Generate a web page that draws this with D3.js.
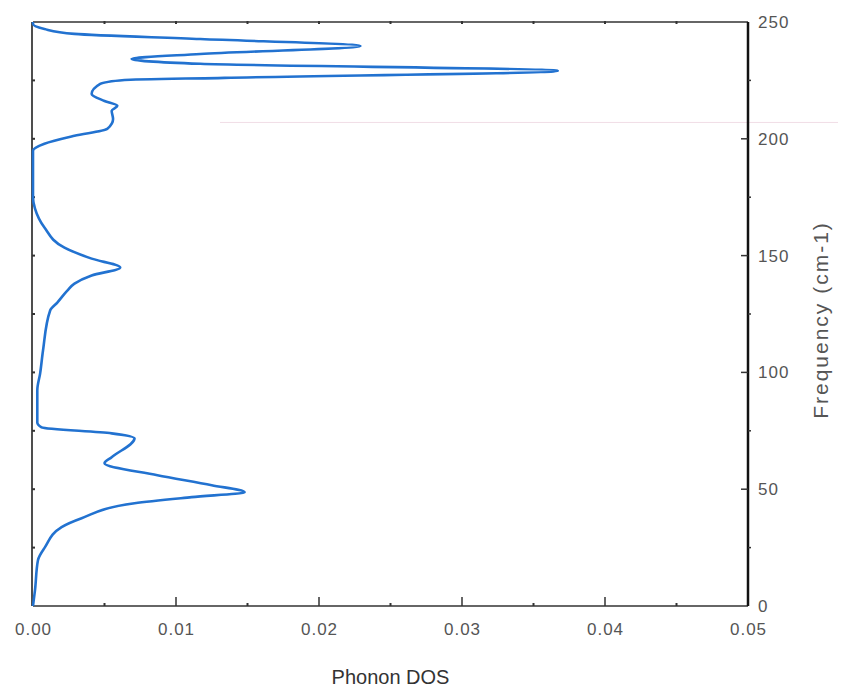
<!DOCTYPE html>
<html lang="en">
<head>
<meta charset="utf-8">
<title>Phonon DOS</title>
<style>
  body { margin: 0; background: #fff; }
  text { font-family: "Liberation Sans", Arial, sans-serif; }
</style>
</head>
<body>
<svg id="chart"></svg>
<script src="https://cdn.jsdelivr.net/npm/d3@7/dist/d3.min.js"></script>
<script>
// frequency (cm-1) and phonon DOS
const freq = [0, 6.8, 19.7, 25.2, 33.8, 37.6, 44.0, 46.6, 48.7, 51.7, 56.0, 61.1, 63.7, 71.8, 73.9, 76.5, 78.6,
  92.3, 99.6, 109.4, 126.5, 129.9, 135.0, 138.0, 141.5, 144.9, 148.7, 153.4, 162.0, 170.1, 174.8,
  194.9, 197.9, 201.3, 204.3, 208.5, 212.0, 214.1, 216.2, 219.2, 223.5, 225.2, 226.1, 229.1,
  232.1, 234.2, 236.3, 239.7, 242.7, 244.9, 247.0, 249.1, 250];
const dos = [0, 0.00014, 0.00035, 0.00084, 0.0020, 0.0034, 0.0071, 0.0111, 0.0148, 0.0125, 0.0087, 0.0050, 0.0055, 0.0071, 0.0055, 0.0006, 0.0003,
  0.0003, 0.0005, 0.0007, 0.0012, 0.0017, 0.0024, 0.0029, 0.0041, 0.0061, 0.0041, 0.0022, 0.0008, 0.00014, 0,
  0, 0.0008, 0.0029, 0.0052, 0.0056, 0.0055, 0.0059, 0.0050, 0.0041, 0.0047, 0.0064, 0.0134, 0.0367,
  0.0117, 0.0069, 0.0117, 0.0229, 0.0117, 0.0029, 0.0008, 0, 0];

const xTicks = [0, 0.01, 0.02, 0.03, 0.04, 0.05];
const xMinor = [0.005, 0.015, 0.025, 0.035, 0.045];
const yTicks = [0, 50, 100, 150, 200, 250];
const yMinor = [25, 75, 125, 175, 225];

const width = 842, height = 690;
const mLeft = 33, mRight = 748, mTop = 22, mBottom = 606;

const svg = d3.select('#chart').attr('width', width).attr('height', height);

const x = d3.scaleLinear().domain([0, 0.05]).range([mLeft, mRight]);
const y = d3.scaleLinear().domain([0, 250]).range([mBottom, mTop]);

const data = freq.map((f, i) => ({ f: f, d: dos[i] }));

// faint scan line seen in the picture
svg.append('line')
  .attr('x1', 220).attr('x2', 838)
  .attr('y1', y(207)).attr('y2', y(207))
  .attr('stroke', '#f1dde6').attr('stroke-width', 1);

// frame
svg.append('line').attr('x1', mLeft).attr('x2', mRight).attr('y1', mTop).attr('y2', mTop)
  .attr('stroke', '#333').attr('stroke-width', 1.5);
svg.append('line').attr('x1', mLeft).attr('x2', mRight).attr('y1', mBottom).attr('y2', mBottom)
  .attr('stroke', '#333').attr('stroke-width', 1.5);
svg.append('line').attr('x1', mLeft - 1).attr('x2', mLeft - 1).attr('y1', mTop).attr('y2', mBottom)
  .attr('stroke', '#222').attr('stroke-width', 1.6);
svg.append('line').attr('x1', mRight).attr('x2', mRight).attr('y1', mTop).attr('y2', mBottom)
  .attr('stroke', '#111').attr('stroke-width', 2.5);

// bottom axis
const xAxis = d3.axisBottom(x).tickValues(xTicks).tickFormat(d3.format('.2f')).tickSize(0).tickPadding(17);
const gx = svg.append('g').attr('transform', 'translate(0,' + mBottom + ')').call(xAxis);
gx.select('.domain').remove();
gx.selectAll('text').attr('font-size', 17).attr('letter-spacing', 1).attr('fill', '#555');
svg.append('g').selectAll('line').data(xTicks.slice(1, -1)).join('line')
  .attr('x1', d => x(d)).attr('x2', d => x(d)).attr('y1', mBottom).attr('y2', mBottom - 9)
  .attr('stroke', '#333').attr('stroke-width', 1.5);
svg.append('g').selectAll('line').data(xMinor).join('line')
  .attr('x1', d => x(d)).attr('x2', d => x(d)).attr('y1', mBottom).attr('y2', mBottom - 3)
  .attr('stroke', '#333').attr('stroke-width', 2);

// top ticks
svg.append('g').selectAll('line').data(xMinor.concat(xTicks.slice(1, -1))).join('line')
  .attr('x1', d => x(d)).attr('x2', d => x(d)).attr('y1', mTop - 1).attr('y2', mTop + 2)
  .attr('stroke', '#333').attr('stroke-width', 2);

// right axis
const yAxis = d3.axisRight(y).tickValues(yTicks).tickSize(0).tickPadding(10);
const gy = svg.append('g').attr('transform', 'translate(' + mRight + ',0)').call(yAxis);
gy.select('.domain').remove();
gy.selectAll('text').attr('font-size', 17).attr('letter-spacing', 1).attr('fill', '#555');
svg.append('g').selectAll('line').data(yTicks.slice(1, -1)).join('line')
  .attr('x1', mRight).attr('x2', mRight - 7).attr('y1', d => y(d)).attr('y2', d => y(d))
  .attr('stroke', '#333').attr('stroke-width', 1.5);
svg.append('g').selectAll('line').data(yMinor).join('line')
  .attr('x1', mRight).attr('x2', mRight + 3).attr('y1', d => y(d)).attr('y2', d => y(d))
  .attr('stroke', '#333').attr('stroke-width', 1.5);

// left ticks
svg.append('g').selectAll('line').data(yMinor.concat(yTicks.slice(1, -1))).join('line')
  .attr('x1', mLeft - 1).attr('x2', mLeft + 2).attr('y1', d => y(d)).attr('y2', d => y(d))
  .attr('stroke', '#333').attr('stroke-width', 2);

// curve
const line = d3.line()
  .x(d => x(d.d))
  .y(d => y(d.f))
  .curve(d3.curveMonotoneY);

svg.append('path')
  .datum(data)
  .attr('d', line)
  .attr('fill', 'none')
  .attr('stroke', '#2272d0')
  .attr('stroke-width', 2.6)
  .attr('stroke-linejoin', 'round');

// axis titles
svg.append('text')
  .attr('x', (mLeft + mRight) / 2).attr('y', 684)
  .attr('text-anchor', 'middle')
  .attr('font-size', 20).attr('fill', '#333')
  .text('Phonon DOS');

svg.append('text')
  .attr('transform', 'translate(828,320) rotate(-90)')
  .attr('text-anchor', 'middle')
  .attr('font-size', 21).attr('letter-spacing', 2).attr('fill', '#555')
  .text('Frequency (cm-1)');
</script>
</body>
</html>
